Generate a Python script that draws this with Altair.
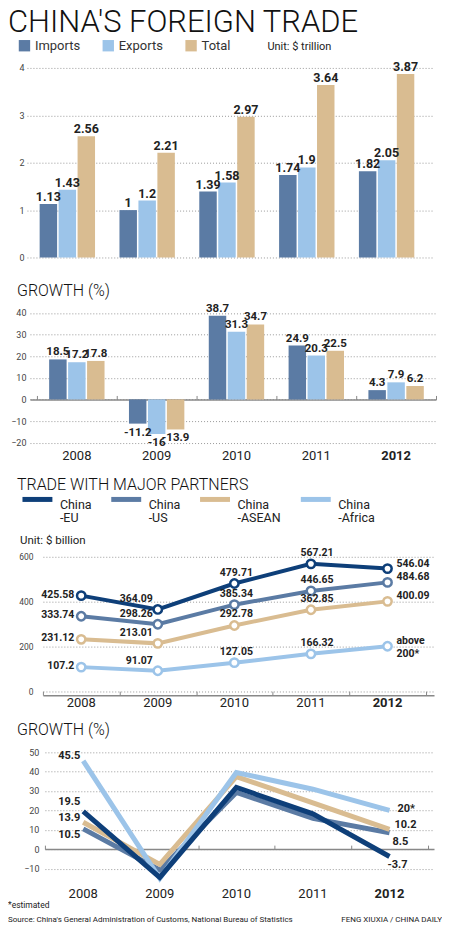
import altair as alt
import pandas as pd

# ---------------- data ----------------
YEARS = ["2008", "2009", "2010", "2011", "2012"]
TRADE_TYPES = ["Imports", "Exports", "Total"]
IMPORTS = [1.13, 1.0, 1.39, 1.74, 1.82]
EXPORTS = [1.43, 1.2, 1.58, 1.9, 2.05]
TOTAL = [2.56, 2.21, 2.97, 3.64, 3.87]
IMPORTS_GROWTH = [18.5, -11.2, 38.7, 24.9, 4.3]
EXPORTS_GROWTH = [17.2, -16.0, 31.3, 20.3, 7.9]
TOTAL_GROWTH = [17.8, -13.9, 34.7, 22.5, 6.2]

PARTNERS = ["China-EU", "China-US", "China-ASEAN", "China-Africa"]
EU = [425.58, 364.09, 479.71, 567.21, 546.04]
US = [333.74, 298.26, 385.34, 446.65, 484.68]
ASEAN = [231.12, 213.01, 292.78, 362.85, 400.09]
AFRICA = [107.2, 91.07, 127.05, 166.32, 200.0]
EU_LABELS = ["425.58", "364.09", "479.71", "567.21", "546.04"]
US_LABELS = ["333.74", "298.26", "385.34", "446.65", "484.68"]
ASEAN_LABELS = ["231.12", "213.01", "292.78", "362.85", "400.09"]
AFRICA_LABELS = ["107.2", "91.07", "127.05", "166.32", "above|200*"]

EU_GROWTH = [19.5, -14.5, 31.8, 18.2, -3.7]
US_GROWTH = [10.5, -10.6, 29.2, 15.9, 8.5]
ASEAN_GROWTH = [13.9, -7.8, 37.4, 23.9, 10.2]
AFRICA_GROWTH = [45.5, -15.0, 39.5, 30.9, 20.0]
EU_GROWTH_LABELS = ["19.5", "", "", "", "-3.7"]
US_GROWTH_LABELS = ["10.5", "", "", "", "8.5"]
ASEAN_GROWTH_LABELS = ["13.9", "", "", "", "10.2"]
AFRICA_GROWTH_LABELS = ["45.5", "", "", "", "20*"]

TRADE_TICKS = [0, 1, 2, 3, 4]
GROWTH_TICKS = [-20, -10, 0, 10, 20, 30, 40]
PARTNER_TICKS = [0, 200, 400, 600]
PGROWTH_TICKS = [-10, 0, 10, 20, 30, 40, 50]

TITLE = "CHINA'S FOREIGN TRADE"
GROWTH_TITLE = "GROWTH (%)"
PARTNER_TITLE = "TRADE WITH MAJOR PARTNERS"
UNIT_TRILLION = "Unit: $ trillion"
UNIT_BILLION = "Unit: $ billion"
NOTE = "*estimated"
SOURCE = "Source: China's General Administration of Customs, National Bureau of Statistics"
CREDIT = "FENG XIUXIA / CHINA DAILY"

# ---------------- styles ----------------
TYPE_COLORS = ["#5b7ba4", "#9cc4e9", "#d9bc91"]
PARTNER_COLORS = ["#0e3f79", "#5b7ba4", "#d9bc91", "#9cc4e9"]
SANS = "Roboto, Arial, sans-serif"
BOLD_2012 = {"condition": {"test": "datum.value === '2012'", "value": "bold"}, "value": "normal"}

# ---------------- tables ----------------
trade_df = pd.DataFrame({
    "year": YEARS * 3,
    "type": [t for t in TRADE_TYPES for _ in YEARS],
    "value": IMPORTS + EXPORTS + TOTAL,
})
trade_df["label"] = [f"{v:g}" for v in trade_df["value"]]

growth_df = pd.DataFrame({
    "year": YEARS * 3,
    "type": [t for t in TRADE_TYPES for _ in YEARS],
    "value": IMPORTS_GROWTH + EXPORTS_GROWTH + TOTAL_GROWTH,
})
growth_df["label"] = [f"{v:g}" for v in growth_df["value"]]

# drawing order (bottom -> top): US, ASEAN, Africa, EU
order = ["China-US", "China-ASEAN", "China-Africa", "China-EU"]
vals = {"China-EU": EU, "China-US": US, "China-ASEAN": ASEAN, "China-Africa": AFRICA}
labs = {"China-EU": EU_LABELS, "China-US": US_LABELS, "China-ASEAN": ASEAN_LABELS, "China-Africa": AFRICA_LABELS}
gvals = {"China-EU": EU_GROWTH, "China-US": US_GROWTH, "China-ASEAN": ASEAN_GROWTH, "China-Africa": AFRICA_GROWTH}
glabs = {"China-EU": EU_GROWTH_LABELS, "China-US": US_GROWTH_LABELS,
         "China-ASEAN": ASEAN_GROWTH_LABELS, "China-Africa": AFRICA_GROWTH_LABELS}

partner_df = pd.DataFrame({
    "year": YEARS * 4,
    "partner": [p for p in order for _ in YEARS],
    "value": sum([vals[p] for p in order], []),
    "label": sum([labs[p] for p in order], []),
})
pgrowth_df = pd.DataFrame({
    "year": YEARS * 4,
    "partner": [p for p in order for _ in YEARS],
    "value": sum([gvals[p] for p in order], []),
    "label": sum([glabs[p] for p in order], []),
})

W = 410


def text_layer(txt, x, y, size, font=SANS, weight=400, color="#111", align="left"):
    return alt.Chart(pd.DataFrame({"t": [txt]})).mark_text(
        align=align, baseline="alphabetic", fontSize=size, font=font,
        fontWeight=weight, color=color,
    ).encode(text="t:N", x=alt.value(x), y=alt.value(y))


def y_axis(values, offset=0, pad=2, size=9):
    return alt.Axis(values=values, tickCount=len(values), grid=True, gridColor="#9a9a9a",
                    gridDash=[1, 2], gridWidth=1, domain=False, ticks=False, labelFontSize=size,
                    labelFont=SANS, labelColor="#444", labelPadding=pad,
                    labelOverlap=False, offset=offset, title=None)


def x_bottom(pad, size=13):
    return alt.Axis(orient="bottom", domain=False, ticks=False, grid=False, labelAngle=0,
                    labelFont=SANS, labelFontSize=size, labelColor="#222",
                    labelPadding=pad, labelFontWeight=BOLD_2012, title=None)


def x_zero(offset):
    return alt.Axis(orient="top", offset=offset, labels=False, grid=False, ticks=True,
                    tickBand="extent", tickSize=4, tickColor="#888", tickWidth=1,
                    domain=True, domainColor="#888", domainWidth=1.5, title=None)


# ---------------- panel 1: trade values ----------------
x1_scale = alt.Scale(domain=YEARS, range=[0, 406], paddingInner=0, paddingOuter=0.0375, align=0.08)
xo1_scale = alt.Scale(domain=TRADE_TYPES, paddingInner=0.079, paddingOuter=0.644)
y1_scale = alt.Scale(domain=[0, 4], nice=False)
y1_axis = y_axis(TRADE_TICKS, 0, 3)

bars1 = alt.Chart(trade_df).mark_bar().encode(
    x=alt.X("year:N", scale=x1_scale, axis=alt.Axis(
        orient="bottom", domain=True, domainColor="#888", domainWidth=1.5, ticks=False,
        grid=False, labelAngle=0, labelFont=SANS, labelFontSize=13, labelColor="#222",
        labelPadding=4, labelFontWeight=BOLD_2012, title=None)),
    xOffset=alt.XOffset("type:N", scale=xo1_scale, sort=TRADE_TYPES),
    y=alt.Y("value:Q", scale=y1_scale, axis=y1_axis),
    color=alt.Color("type:N", scale=alt.Scale(domain=TRADE_TYPES, range=TYPE_COLORS),
                    sort=TRADE_TYPES,
                    legend=alt.Legend(orient="none", legendX=-9, legendY=-29, direction="horizontal",
                                      columns=3, gridAlign="each", columnPadding=21,
                                      symbolType="square", symbolSize=130, symbolStrokeWidth=0,
                                      symbolOpacity=1, labelFont=SANS, labelFontSize=13,
                                      labelColor="#333", labelOffset=4, padding=0, title=None)),
)
text1 = alt.Chart(trade_df).mark_text(
    baseline="alphabetic", dy=-3, font=SANS, fontWeight="bold", fontSize=12.5, color="#222"
).encode(
    x=alt.X("year:N", scale=x1_scale, axis=None),
    xOffset=alt.XOffset("type:N", scale=xo1_scale, sort=TRADE_TYPES),
    y=alt.Y("value:Q", scale=y1_scale, axis=y1_axis),
    text="label:N",
)
p1 = alt.layer(
    bars1, text1,
    text_layer(TITLE, -19, -36, 31, weight=300),
    text_layer(UNIT_TRILLION, 241, -17.7, 11, color="#222"),
).properties(width=W, height=190)

# ---------------- panel 2: trade growth ----------------
x2_scale = alt.Scale(domain=YEARS, range=[3, 410], paddingInner=0, paddingOuter=0.04375, align=1)
xo2_scale = alt.Scale(domain=TRADE_TYPES, paddingInner=0.07, paddingOuter=0.44)
y2_scale = alt.Scale(domain=[-20, 47.19], nice=False)
y2_axis = y_axis(GROWTH_TICKS, 0, 1)

bars2 = alt.Chart(growth_df).mark_bar().encode(
    x=alt.X("year:N", scale=x2_scale, axis=x_bottom(7)),
    xOffset=alt.XOffset("type:N", scale=xo2_scale, sort=TRADE_TYPES),
    y=alt.Y("value:Q", scale=y2_scale, axis=y2_axis),
    color=alt.Color("type:N", scale=alt.Scale(domain=TRADE_TYPES, range=TYPE_COLORS), legend=None),
)


def growth_text(cond, baseline, dy):
    return alt.Chart(growth_df).transform_filter(cond).mark_text(
        baseline=baseline, dy=dy, font=SANS, fontWeight="bold", fontSize=11.5, color="#222"
    ).encode(
        x=alt.X("year:N", scale=x2_scale, axis=None),
        xOffset=alt.XOffset("type:N", scale=xo2_scale, sort=TRADE_TYPES),
        y=alt.Y("value:Q", scale=y2_scale, axis=y2_axis),
        text="label:N",
    )


zero2 = alt.Chart(growth_df).mark_point(opacity=0).encode(
    x=alt.X("year:N", scale=x2_scale, axis=x_zero(-102.3)))

p2 = alt.layer(
    bars2, growth_text("datum.value >= 0", "bottom", -2), growth_text("datum.value < 0", "top", 3),
    zero2, text_layer(GROWTH_TITLE, -10, -1.7, 16, weight=300),
).resolve_axis(x="independent").properties(width=W, height=145.6)

# ---------------- panel 3: partners ----------------
x3_scale = alt.Scale(domain=YEARS, range=[16, 408], paddingInner=0, paddingOuter=0.0537, align=0)
y3_scale = alt.Scale(domain=[0, 927.6], nice=False)
y3_axis = y_axis(PARTNER_TICKS, -8, 2, 8.5)
pcolor_scale = alt.Scale(domain=PARTNERS, range=PARTNER_COLORS)

lines3 = alt.Chart(partner_df).mark_line(strokeWidth=4).encode(
    x=alt.X("year:N", scale=x3_scale, axis=x_bottom(5)),
    y=alt.Y("value:Q", scale=y3_scale, axis=y3_axis),
    color=alt.Color("partner:N", scale=pcolor_scale, legend=alt.Legend(
        orient="none", legendX=-7, legendY=-1, direction="horizontal", columns=4,
        gridAlign="each", columnPadding=9, symbolType="stroke", symbolSize=900,
        symbolStrokeWidth=5, labelExpr="['China', slice(datum.label, 5)]",
        labelFont=SANS, labelFontSize=12.5, labelColor="#222", labelOffset=5,
        labelBaseline="top", padding=0, title=None)),
)
points3 = alt.Chart(partner_df).mark_point(filled=True, fill="white", size=70, strokeWidth=2.5, opacity=1).encode(
    x=alt.X("year:N", scale=x3_scale, axis=None),
    y=alt.Y("value:Q", scale=y3_scale, axis=y3_axis),
    stroke=alt.Stroke("partner:N", scale=pcolor_scale, legend=None),
)

YEAR_LABEL_STYLE = {
    "2008": ("right", "middle", -7, -1),
    "2009": ("right", "bottom", -5, -5),
    "2010": ("center", "bottom", 2, -6),
    "2011": ("center", "bottom", 6, -6),
    "2012": ("left", "bottom", 9, 0),
}
labels3 = []
for yr, (al, bl, dx, dy) in YEAR_LABEL_STYLE.items():
    labels3.append(alt.Chart(partner_df).transform_filter(f"datum.year === '{yr}'").mark_text(
        align=al, baseline=bl, dx=dx, dy=dy, font=SANS, fontWeight="bold", fontSize=10.5,
        color="#222", lineBreak="|",
    ).encode(x=alt.X("year:N", scale=x3_scale, axis=None),
             y=alt.Y("value:Q", scale=y3_scale, axis=y3_axis),
             text="label:N"))

zero3 = alt.Chart(partner_df).mark_point(opacity=0).encode(
    x=alt.X("year:N", scale=x3_scale, axis=x_zero(-212.7)))

p3 = alt.layer(
    lines3, points3, *labels3, zero3,
    text_layer(PARTNER_TITLE, -10, 6.7, 16, weight=300),
    text_layer(UNIT_BILLION, -7, 61.2, 11.5, color="#222"),
).resolve_axis(x="independent").properties(width=W, height=208.7)

# ---------------- panel 4: partner growth ----------------
x4_scale = alt.Scale(domain=YEARS, range=[18, 408], paddingInner=0, paddingOuter=0.0407, align=0)
y4_scale = alt.Scale(domain=[-15, 60.63], nice=False)
y4_axis = y_axis(PGROWTH_TICKS, -14, 2, 9)

lines4 = alt.Chart(pgrowth_df).mark_line(strokeWidth=5).encode(
    x=alt.X("year:N", scale=x4_scale, axis=x_bottom(9.5)),
    y=alt.Y("value:Q", scale=y4_scale, axis=y4_axis),
    color=alt.Color("partner:N", scale=pcolor_scale, legend=None),
)
LEFT_STYLE = {"China-EU": (-3, -9), "China-US": (-3, 6), "China-ASEAN": (-3, -4.5), "China-Africa": (-3, -5)}
RIGHT_STYLE = {"China-EU": (-2, 9), "China-US": (3, 9), "China-ASEAN": (5, -4), "China-Africa": (8, -1)}
labels4 = []
for yr, al, styles in [("2008", "right", LEFT_STYLE), ("2012", "left", RIGHT_STYLE)]:
    for p, (dx, dy) in styles.items():
        labels4.append(alt.Chart(pgrowth_df).transform_filter(
            f"datum.year === '{yr}' && datum.partner === '{p}'").mark_text(
            align=al, baseline="middle", dx=dx, dy=dy, font=SANS, fontWeight="bold",
            fontSize=11, color="#222",
        ).encode(x=alt.X("year:N", scale=x4_scale, axis=None),
                 y=alt.Y("value:Q", scale=y4_scale, axis=y4_axis),
                 text="label:N"))

zero4 = alt.Chart(pgrowth_df).mark_point(opacity=0).encode(
    x=alt.X("year:N", scale=x4_scale, axis=x_zero(-118)))

p4 = alt.layer(
    lines4, *labels4, zero4,
    text_layer(GROWTH_TITLE, -10, 4, 16, weight=300),
    text_layer(NOTE, -19, 177, 8.5, color="#222"),
    text_layer(SOURCE, -19, 191, 8, color="#222"),
    text_layer(CREDIT, 416, 191, 8, color="#222", align="right"),
).resolve_axis(x="independent").properties(width=W, height=147.4)

chart = alt.vconcat(p1, p2, p3, p4, spacing=40, bounds="flush").resolve_scale(
    x="independent", y="independent", color="independent", stroke="independent"
).properties(
    padding={"left": 0, "top": -2, "right": 0, "bottom": 0}
).configure(
    background="white",
    style={"guide-label": {"lineHeight": 13}},
    view={"stroke": None},
)

chart.save("out.html", embed_options={"renderer": "svg", "actions": False})
